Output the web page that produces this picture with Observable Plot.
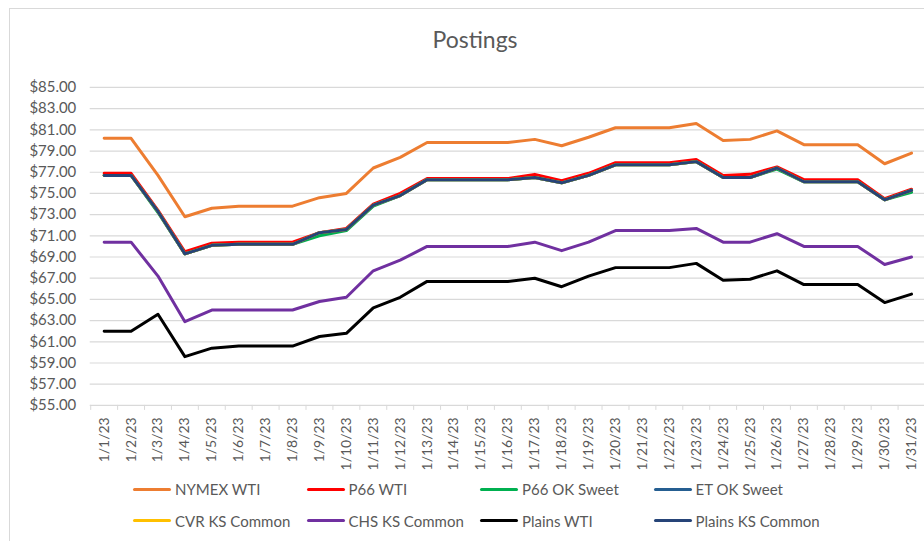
<!DOCTYPE html>
<html>
<head>
<meta charset="utf-8">
<script src="https://cdn.jsdelivr.net/npm/d3@7"></script>
<script src="https://cdn.jsdelivr.net/npm/@observablehq/plot@0.6"></script>
<style>
  html, body { margin: 0; padding: 0; background: #fff; }
  body { width: 924px; height: 541px; overflow: hidden; position: relative; font-family: Lato, "Open Sans", sans-serif; }
  #frame { position: absolute; left: 9px; top: 8px; width: 940px; height: 560px; border: 1px solid #D9D9D9; box-sizing: border-box; }
  #title { position: absolute; left: 375px; top: 26px; width: 200px; text-align: center; font-size: 23px; color: #595959; line-height: 1.2; }
  #chart { position: absolute; left: 0; top: 70px; }
  #legend { position: absolute; left: 0; top: 478px; width: 924px; }
  .item { position: absolute; display: flex; align-items: center; height: 22px; font-size: 15px; color: #595959; white-space: nowrap; }
  .swatch { width: 38px; height: 3px; border-radius: 1.5px; margin-right: 4px; }
</style>
</head>
<body>
<div id="frame"></div>
<div id="title">Postings</div>
<div id="chart"></div>
<div id="legend"></div>
<script>
// ---- data ----
const dates = ["1/1/23","1/2/23","1/3/23","1/4/23","1/5/23","1/6/23","1/7/23","1/8/23","1/9/23","1/10/23",
  "1/11/23","1/12/23","1/13/23","1/14/23","1/15/23","1/16/23","1/17/23","1/18/23","1/19/23","1/20/23",
  "1/21/23","1/22/23","1/23/23","1/24/23","1/25/23","1/26/23","1/27/23","1/28/23","1/29/23","1/30/23","1/31/23"];

const nymexWTI = [80.2,80.2,76.7,72.8,73.6,73.8,73.8,73.8,74.6,75.0,77.4,78.4,79.8,79.8,79.8,79.8,80.1,79.5,80.3,81.2,81.2,81.2,81.6,80.0,80.1,80.9,79.6,79.6,79.6,77.8,78.8];
const p66WTI = [76.9,76.9,73.4,69.5,70.3,70.4,70.4,70.4,71.3,71.7,74.0,75.0,76.4,76.4,76.4,76.4,76.8,76.2,76.9,77.9,77.9,77.9,78.2,76.7,76.8,77.5,76.3,76.3,76.3,74.5,75.4];
const p66OKSweet = [76.7,76.7,73.2,69.3,70.1,70.2,70.2,70.2,71.0,71.5,73.8,74.8,76.3,76.3,76.3,76.3,76.5,76.0,76.7,77.7,77.7,77.7,78.0,76.5,76.5,77.3,76.1,76.1,76.1,74.4,75.1];
const etOKSweet = [76.7,76.7,73.3,69.3,70.1,70.2,70.2,70.2,71.3,71.6,73.9,74.8,76.3,76.3,76.3,76.3,76.5,76.0,76.7,77.7,77.7,77.7,78.0,76.5,76.5,77.4,76.1,76.1,76.1,74.4,75.3];
const cvrKSCommon = [76.7,76.7,73.3,69.3,70.1,70.2,70.2,70.2,71.3,71.6,73.9,74.8,76.3,76.3,76.3,76.3,76.5,76.0,76.7,77.7,77.7,77.7,78.0,76.5,76.5,77.4,76.1,76.1,76.1,74.4,75.3];
const chsKSCommon = [70.4,70.4,67.2,62.9,64.0,64.0,64.0,64.0,64.8,65.2,67.7,68.7,70.0,70.0,70.0,70.0,70.4,69.6,70.4,71.5,71.5,71.5,71.7,70.4,70.4,71.2,70.0,70.0,70.0,68.3,69.0];
const plainsWTI = [62.0,62.0,63.6,59.6,60.4,60.6,60.6,60.6,61.5,61.8,64.2,65.2,66.7,66.7,66.7,66.7,67.0,66.2,67.2,68.0,68.0,68.0,68.4,66.8,66.9,67.7,66.4,66.4,66.4,64.7,65.5];
const plainsKSCommon = [76.7,76.7,73.3,69.3,70.1,70.2,70.2,70.2,71.3,71.6,73.9,74.8,76.3,76.3,76.3,76.3,76.5,76.0,76.7,77.7,77.7,77.7,78.0,76.5,76.5,77.4,76.1,76.1,76.1,74.4,75.3];

const seriesNames = ["NYMEX WTI","P66 WTI","P66 OK Sweet","ET OK Sweet","CVR KS Common","CHS KS Common","Plains WTI","Plains KS Common"];
const seriesValues = [nymexWTI, p66WTI, p66OKSweet, etOKSweet, cvrKSCommon, chsKSCommon, plainsWTI, plainsKSCommon];
const yTicks = [55,57,59,61,63,65,67,69,71,73,75,77,79,81,83,85];

// ---- styles ----
const seriesColors = ["#ED7D31","#FF0000","#00B050","#255E91","#FFC000","#7030A0","#000000","#264478"];

const rows = [];
seriesNames.forEach((name, s) => {
  seriesValues[s].forEach((v, i) => rows.push({series: name, date: dates[i], value: v}));
});

const lineMarks = seriesNames.map((name, s) =>
  Plot.line(rows.filter(d => d.series === name), {
    x: "date", y: "value", stroke: seriesColors[s], strokeWidth: 3,
    strokeLinejoin: "round", strokeLinecap: "round"
  })
);

const chart = Plot.plot({
  width: 927,
  height: 400,
  marginTop: 17,
  marginBottom: 64,
  marginLeft: 90,
  marginRight: 0,
  style: {fontFamily: "Lato, 'Open Sans', sans-serif", background: "transparent", overflow: "visible"},
  x: {type: "point", domain: dates, padding: 0.5, label: null},
  y: {domain: [55, 85], label: null},
  marks: [
    Plot.gridY(yTicks.slice(1), {stroke: "#D9D9D9", strokeOpacity: 1, strokeWidth: 1.2}),
    Plot.ruleY([55], {stroke: "#D9D9D9", strokeWidth: 1.2}),
    Plot.axisX({tickSize: 5, tickFormat: () => "", dx: -13.5, stroke: "#D9D9D9", strokeOpacity: 1, label: null}),
    Plot.axisX({tickSize: 0, tickPadding: 12, tickRotate: -90, fontSize: 14, fill: "#595959", label: null}),
    Plot.axisY({ticks: yTicks, tickSize: 0, tickPadding: 14, fontSize: 15, fill: "#595959",
      tickFormat: d => "$" + d.toFixed(2), label: null}),
    ...lineMarks
  ]
});
document.getElementById("chart").appendChild(chart);

// legend
const legend = document.getElementById("legend");
const colLeft = [133, 306.5, 480, 653.5];
const rowTop = [0, 31.5];
seriesNames.forEach((name, s) => {
  const el = document.createElement("div");
  el.className = "item";
  el.style.left = colLeft[s % 4] + "px";
  el.style.top = rowTop[Math.floor(s / 4)] + "px";
  const sw = document.createElement("span");
  sw.className = "swatch";
  sw.style.background = seriesColors[s];
  const tx = document.createElement("span");
  tx.textContent = name;
  el.appendChild(sw); el.appendChild(tx);
  legend.appendChild(el);
});
</script>
</body>
</html>
